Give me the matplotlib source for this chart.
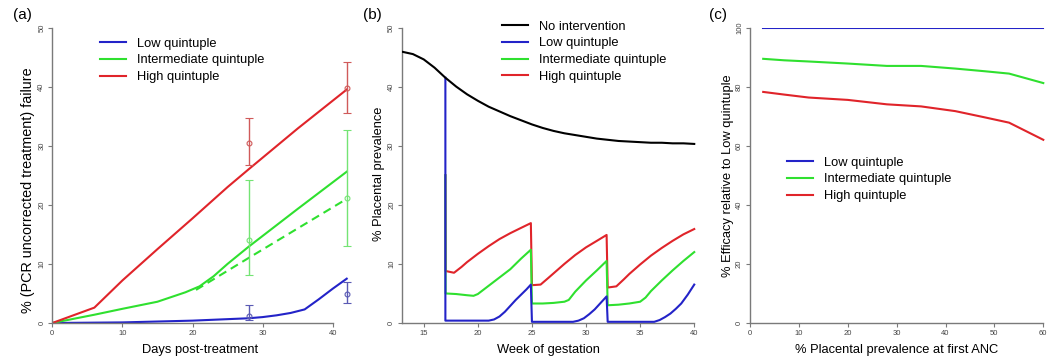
import matplotlib
matplotlib.use('Agg')
import matplotlib.pyplot as plt

plt.rcParams['font.family'] = ['Liberation Sans', 'DejaVu Sans']

RED = '#e0242a'
GREEN = '#2fe02f'
BLUE = '#2323c8'
RED_EB = '#d05a5a'
GREEN_EB = '#74e474'
BLUE_EB = '#5a5ab4'
AXCOL = '#7a7a7a'

# ---- panel (a): treatment failure vs days
days_red = [0, 6, 10, 15, 20, 25, 28, 35, 42]
fail_red = [0, 2.6, 7.2, 12.5, 17.7, 23.0, 26.0, 32.9, 39.5]
days_green = [0, 6, 10, 15, 19, 21, 23, 25, 28, 35, 42]
fail_green = [0, 1.4, 2.4, 3.6, 5.2, 6.2, 7.9, 10.0, 12.9, 19.3, 25.6]
days_green_dash = [20.5, 28, 42]
fail_green_dash = [5.6, 11.0, 21.0]
days_blue = [0, 10, 20, 28, 30, 32, 34, 36, 38, 40, 42]
fail_blue = [0, 0.1, 0.4, 0.8, 1.0, 1.3, 1.7, 2.3, 4.0, 5.8, 7.5]

obs_days = [28, 42]
obs_red = [30.4, 39.8]
obs_red_lo = [26.7, 35.5]
obs_red_hi = [34.7, 44.1]
obs_green = [14.1, 21.1]
obs_green_lo = [8.1, 13.1]
obs_green_hi = [24.2, 32.7]
obs_blue = [1.1, 4.9]
obs_blue_lo = [0.5, 3.3]
obs_blue_hi = [3.0, 7.0]

# ---- panel (b): placental prevalence vs week
wk_black = [13, 14, 15, 16, 17, 18, 19, 20, 21, 22, 23, 24, 25, 26, 27, 28,
            29, 30, 31, 32, 33, 34, 35, 36, 37, 38, 39, 40]
prev_black = [45.9, 45.5, 44.6, 43.2, 41.5, 40.0, 38.7, 37.6, 36.6, 35.8, 35.0,
              34.3, 33.6, 33.0, 32.5, 32.1, 31.8, 31.5, 31.2, 31.0, 30.8, 30.7,
              30.6, 30.5, 30.5, 30.4, 30.4, 30.3]
wk_blue = [17, 17, 21, 21.5, 22, 22.5, 23, 23.5, 24, 24.5, 24.9, 25, 28.8, 29.3,
           29.8, 30.3, 30.8, 31.3, 31.9, 32, 36.3, 36.8, 37.3, 37.8, 38.3, 38.8,
           39.4, 40]
prev_blue = [41.5, 0.4, 0.4, 0.6, 1.1, 1.9, 2.9, 3.9, 4.8, 5.7, 6.5, 0.2, 0.2, 0.4,
             0.8, 1.5, 2.3, 3.3, 4.5, 0.2, 0.2, 0.5, 1.0, 1.6, 2.4, 3.3, 4.8, 6.5]
wk_green = [17, 17.02, 18, 19, 19.6, 20, 20.5, 21, 22, 23, 24, 24.9, 25, 26, 27,
            28, 28.4, 29, 30, 31, 31.9, 32, 33, 34, 35, 35.5, 36, 37, 38, 39, 40]
prev_green = [25, 5.0, 4.9, 4.7, 4.6, 4.9, 5.6, 6.3, 7.7, 9.1, 10.9, 12.4, 3.3, 3.3,
              3.4, 3.6, 3.9, 5.3, 7.2, 8.9, 10.5, 3.0, 3.1, 3.3, 3.6, 4.3, 5.4, 7.2,
              8.9, 10.5, 12.0]
wk_red = [17, 17.02, 17.8, 18.5, 19, 20, 21, 22, 23, 24, 24.9, 25, 25.8, 26.5, 27,
          28, 29, 30, 31, 31.9, 32, 32.8, 33.5, 34, 35, 36, 37, 38, 39, 40]
prev_red = [25, 8.8, 8.5, 9.5, 10.3, 11.7, 13.0, 14.2, 15.2, 16.1, 16.9, 6.4, 6.5,
            7.6, 8.4, 10.0, 11.5, 12.8, 13.9, 14.9, 6.0, 6.2, 7.4, 8.3, 9.9, 11.4,
            12.7, 13.9, 15.0, 15.9]

# ---- panel (c): efficacy vs prevalence at first ANC
anc_prev = [2.7, 7, 12, 20, 28, 35, 42, 48, 53, 60]
eff_low = [100, 100, 100, 100, 100, 100, 100, 100, 100, 100]
eff_int = [89.4, 88.9, 88.5, 87.8, 87.0, 87.0, 86.1, 85.2, 84.4, 81.2]
eff_high = [78.2, 77.3, 76.3, 75.5, 74.0, 73.3, 71.7, 69.6, 67.8, 62.0]

W, H = 1056, 360
fig = plt.figure(figsize=(W / 100, H / 100), dpi=100)

top_px, bot_px = 27.5, 323.0
hgt = bot_px - top_px
XLAB_Y = (bot_px - 343.5) / hgt


def make_axes(left_px, width_px, xlim, ylim, xbounds, xticks, yticks):
  ax = fig.add_axes([left_px / W, 1 - bot_px / H, width_px / W, hgt / H])
  ax.set_xlim(*xlim)
  ax.set_ylim(*ylim)
  for s in ['top', 'right']:
    ax.spines[s].set_visible(False)
  for s in ['left', 'bottom']:
    ax.spines[s].set_color(AXCOL)
    ax.spines[s].set_linewidth(1.0)
  ax.spines['bottom'].set_bounds(*xbounds)
  ax.spines['left'].set_bounds(*ylim)
  ax.set_xticks(xticks)
  ax.set_yticks(yticks)
  ax.tick_params(colors=AXCOL, labelcolor='#444444', labelsize=5.5, length=3, width=0.8, pad=2)
  for lab in ax.get_yticklabels():
    lab.set_rotation(90)
    lab.set_va('center')
  return ax


def legend(ax, x_px, y_px, handles=None, labels=None):
  args = [] if handles is None else [handles, labels]
  ax.legend(*args, loc='upper left', bbox_to_anchor=(x_px / W, 1 - y_px / H),
            bbox_transform=fig.transFigure, frameon=False, fontsize=9.3,
            handlelength=2.0, handletextpad=0.9, labelspacing=0.37,
            borderpad=0, borderaxespad=0)


# (a)
wa = 7.01 * 43
ax1 = make_axes(52.3, wa, (0, 43), (0, 50), (0, 40), [0, 10, 20, 30, 40], range(0, 51, 10))
ax1.plot(days_blue, fail_blue, color=BLUE, lw=1.5, label='Low quintuple')
ax1.plot(days_green, fail_green, color=GREEN, lw=1.5, label='Intermediate quintuple')
ax1.plot(days_red, fail_red, color=RED, lw=1.5, label='High quintuple')
ax1.plot(days_green_dash, fail_green_dash, color=GREEN, lw=1.5, ls=(0, (4, 2.5)))
for m, lo, hi, c in [(obs_red, obs_red_lo, obs_red_hi, RED_EB),
                     (obs_green, obs_green_lo, obs_green_hi, GREEN_EB),
                     (obs_blue, obs_blue_lo, obs_blue_hi, BLUE_EB)]:
  yerr = [[a - b for a, b in zip(m, lo)], [b - a for a, b in zip(m, hi)]]
  ax1.errorbar(obs_days, m, yerr=yerr, fmt='o', mfc='none', mec=c, ms=3.5, mew=0.8,
               ecolor=c, elinewidth=1.0, capsize=3, capthick=1.0, clip_on=False)
ax1.set_xlabel('Days post-treatment', fontsize=9.3)
ax1.set_ylabel('% (PCR uncorrected treatment) failure', fontsize=10.4)
ax1.xaxis.set_label_coords((200.5 - 52.3) / wa, XLAB_Y)
ax1.yaxis.set_label_coords((35.5 - 52.3) / wa, 0.45)
legend(ax1, 100, 37.5)

# (b)
wb = 10.82 * 27.2
ax2 = make_axes(402.1, wb, (13, 40.2), (0, 50), (13, 40), [15, 20, 25, 30, 35, 40], range(0, 51, 10))
ax2.plot(wk_red, prev_red, color=RED, lw=1.5, zorder=2)
ax2.plot(wk_green, prev_green, color=GREEN, lw=1.5, zorder=3)
ax2.plot(wk_blue, prev_blue, color=BLUE, lw=1.5, zorder=4)
ax2.plot(wk_black, prev_black, color='black', lw=1.5, zorder=5)
# legend handles in the reference's order
h = [plt.Line2D([], [], color=c, lw=1.5) for c in ['black', BLUE, GREEN, RED]]
legend(ax2, 501.7, 20.5, h, ['No intervention', 'Low quintuple', 'Intermediate quintuple', 'High quintuple'])
ax2.set_xlabel('Week of gestation', fontsize=9.3)
ax2.set_ylabel('% Placental prevalence', fontsize=9.3)
ax2.xaxis.set_label_coords((548.8 - 402.1) / wb, XLAB_Y)
ax2.yaxis.set_label_coords((384.8 - 402.1) / wb, 0.506)

# (c)
wc = 4.888 * 60.5
ax3 = make_axes(750, wc, (0, 60.5), (0, 100), (0, 60), [0, 10, 20, 30, 40, 50, 60], range(0, 101, 20))
ax3.plot(anc_prev, eff_low, color=BLUE, lw=1.5, label='Low quintuple')
ax3.plot(anc_prev, eff_int, color=GREEN, lw=1.5, label='Intermediate quintuple')
ax3.plot(anc_prev, eff_high, color=RED, lw=1.5, label='High quintuple')
ax3.set_xlabel('% Placental prevalence at first ANC', fontsize=9.3)
ax3.set_ylabel('% Efficacy relative to Low quintuple', fontsize=9.3)
ax3.xaxis.set_label_coords((896.7 - 750) / wc, XLAB_Y)
ax3.yaxis.set_label_coords((733.8 - 750) / wc, 0.497)
legend(ax3, 787, 156.5)

for lbl, xpx in [('(a)', 22), ('(b)', 372), ('(c)', 718)]:
  fig.text(xpx / W, 1 - 15 / H, lbl, fontsize=11, ha='center', va='center')

fig.savefig('out.png', dpi=100)
